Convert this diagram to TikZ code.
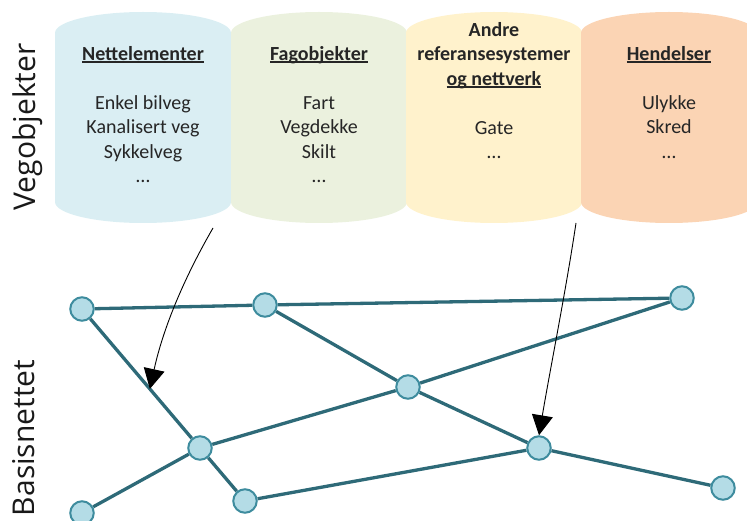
\documentclass[tikz,border=0pt]{standalone}
\usepackage{fontspec}
\setmainfont{Carlito}
\newfontfamily\labelfont{Open Sans}
\usetikzlibrary{arrows.meta,calc}
\definecolor{cylblue}{HTML}{DAEEF3}
\definecolor{cylgreen}{HTML}{EBF1DE}
\definecolor{cylyellow}{HTML}{FFF2CC}
\definecolor{cylorange}{HTML}{FBD4B4}
\definecolor{textcol}{HTML}{262626}
\definecolor{edgecol}{HTML}{2E6A78}
\definecolor{nodefill}{HTML}{B4DCE6}
\definecolor{nodeline}{HTML}{3E8C9E}
\newcommand{\ulh}[1]{\setbox0\hbox{#1}\rlap{\rule[-2.6pt]{\wd0}{1.3pt}}\box0}
\pgfdeclarelayer{bg}
\pgfsetlayers{bg,main}
\tikzset{
  netnode/.style={circle, fill=nodefill, draw=nodeline, line width=2pt, minimum size=23.5pt, inner sep=0pt},
  netedge/.style={draw=edgecol, line width=3.3pt},
  maparrow/.style={draw=black, line width=0.9pt, -{Triangle[width=21pt,length=20pt]}},
  cyltext/.style={align=center, anchor=north, inner sep=0pt, font=\fontsize{20}{24.5}\selectfont, text=textcol},
  sidelabel/.style={rotate=90, inner sep=0pt, font=\labelfont\fontsize{30}{36}\selectfont, text=black!90}
}
\begin{document}
\begin{tikzpicture}[x=1pt,y=-1pt]
\useasboundingbox (0,0) rectangle (747,521);
\clip (0,0) rectangle (747,521);

% network nodes
\node[netnode] (A) at (82,309) {};
\node[netnode] (B) at (265,305) {};
\node[netnode] (C) at (682,298) {};
\node[netnode] (D) at (408,387) {};
\node[netnode] (E) at (200,448) {};
\node[netnode] (F) at (539,448) {};
\node[netnode] (G) at (245,501) {};
\node[netnode] (H) at (82,513) {};
\node[netnode] (I) at (723,488) {};

\begin{pgfonlayer}{bg}
  % cylinders
  \fill[cylblue] (55,33) rectangle (231,202) (143,33) ellipse[x radius=88pt, y radius=21pt] (143,202) ellipse[x radius=88pt, y radius=21pt];
  \fill[cylgreen] (231,33) rectangle (407,202) (319,33) ellipse[x radius=88pt, y radius=21pt] (319,202) ellipse[x radius=88pt, y radius=21pt];
  \fill[cylyellow] (406,33) rectangle (582,202) (494,33) ellipse[x radius=88pt, y radius=21pt] (494,202) ellipse[x radius=88pt, y radius=21pt];
  \fill[cylorange] (581,33) rectangle (757,202) (669,33) ellipse[x radius=88pt, y radius=21pt] (669,202) ellipse[x radius=88pt, y radius=21pt];
  % network edges
  \draw[netedge] (A) -- (B);
  \draw[netedge] (B) -- (C);
  \draw[netedge] (A) -- (E);
  \draw[netedge] (E) -- (G);
  \draw[netedge] (H) -- (E);
  \draw[netedge] (E) -- (D);
  \draw[netedge] (D) -- (C);
  \draw[netedge] (B) -- (D);
  \draw[netedge] (D) -- (F);
  \draw[netedge] (G) -- (F);
  \draw[netedge] (F) -- (I);
\end{pgfonlayer}

% cylinder texts
\node[cyltext] (t1) at (143,44) {\rule{0pt}{16pt}\textbf{\ulh{Nettelementer}}\\[24.5pt] Enkel bilveg\\ Kanalisert veg\\ Sykkelveg\\ …};
\node[cyltext] (t2) at (319,44) {\rule{0pt}{16pt}\textbf{\ulh{Fagobjekter}}\\[24.5pt] Fart\\ Vegdekke\\ Skilt\\ …};
\node[cyltext] (t3) at (494,20) {\rule{0pt}{16pt}\textbf{Andre}\\ \textbf{referansesystemer}\\ \textbf{\ulh{og nettverk}}\\[24.5pt] Gate\\ …};
\node[cyltext] (t4) at (669,44) {\rule{0pt}{16pt}\textbf{\ulh{Hendelser}}\\[24.5pt] Ulykke\\ Skred\\ …};

% side labels
\node[sidelabel] (veg) at (28,127) {Vegobjekter};
\node[sidelabel] (bas) at (24,438) {Basisnettet};

% mapping arrows
\coordinate (s1) at (213,228);
\coordinate (e1) at ($(A)!0.575!(E)$);
\coordinate (s2) at (576,223);
\draw[maparrow] (s1) .. controls (183,280) and (163,329) .. (e1);
\draw[maparrow] (s2) .. controls (566,290) and (550,370) .. (F.north);
\end{tikzpicture}
\end{document}
